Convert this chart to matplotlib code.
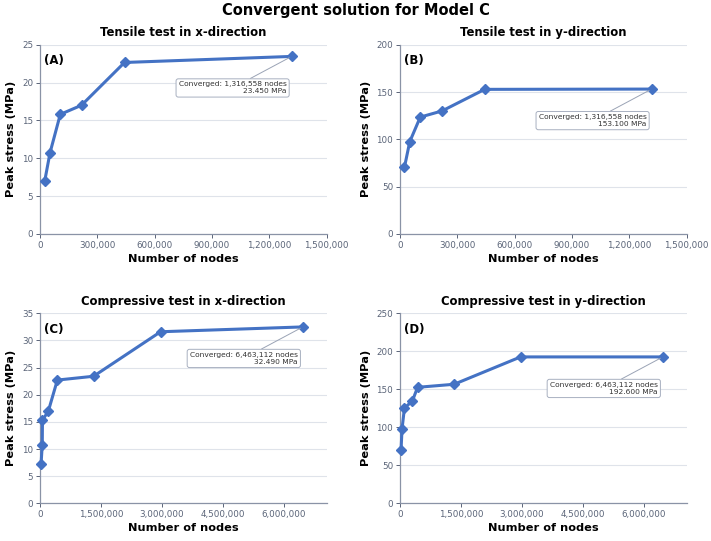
import matplotlib
matplotlib.use("Agg")
import matplotlib.pyplot as plt
from matplotlib.ticker import FuncFormatter

# ---- data ----
nodes_a = [25000, 52000, 106000, 217000, 442000, 1316558]
stress_a = [7.05, 10.7, 15.8, 17.0, 22.65, 23.45]

nodes_b = [23000, 51000, 106000, 220000, 443000, 1316558]
stress_b = [70.3, 97.5, 123.5, 130.0, 152.8, 153.1]

nodes_c = [25000, 55000, 60000, 205000, 426000, 1316558, 2965000, 6463112]
stress_c = [7.2, 10.8, 15.3, 17.0, 22.7, 23.4, 31.6, 32.49]

nodes_d = [25000, 50000, 108000, 307000, 432000, 1330000, 2965000, 6463112]
stress_d = [69.7, 97.9, 125.0, 135.0, 152.6, 156.6, 192.6, 192.6]

titles = ["Tensile test in x-direction", "Tensile test in y-direction",
          "Compressive test in x-direction", "Compressive test in y-direction"]
labels = ["(A)", "(B)", "(C)", "(D)"]
conv_text = ["Converged: 1,316,558 nodes\n23.450 MPa",
             "Converged: 1,316,558 nodes\n153.100 MPa",
             "Converged: 6,463,112 nodes\n32.490 MPa",
             "Converged: 6,463,112 nodes\n192.600 MPa"]
xticks_small = [0, 300000, 600000, 900000, 1200000, 1500000]
xticks_large = [0, 1500000, 3000000, 4500000, 6000000]
yticks = [[0, 5, 10, 15, 20, 25], [0, 50, 100, 150, 200],
          [0, 5, 10, 15, 20, 25, 30, 35], [0, 50, 100, 150, 200, 250]]

series = [(nodes_a, stress_a), (nodes_b, stress_b), (nodes_c, stress_c), (nodes_d, stress_d)]
xlims = [1500000, 1500000, 7050000, 7050000]
xticks_all = [xticks_small, xticks_small, xticks_large, xticks_large]

LINE = "#4472c4"
TICK = "#5a6478"
SPINE = "#8a93a6"
GRID = "#dfe3ea"

fig = plt.figure(figsize=(7.11, 5.41), dpi=100)
fig.suptitle("Convergent solution for Model C", fontsize=10.5, fontweight="bold", y=0.995)

positions = [
    [0.0563, 0.5675, 0.4032, 0.3499],
    [0.5626, 0.5675, 0.4032, 0.3499],
    [0.0563, 0.0697, 0.4032, 0.3512],
    [0.5626, 0.0697, 0.4032, 0.3512],
]

fmt = FuncFormatter(lambda v, p: f"{int(v):,}")

for i in range(4):
    ax = fig.add_axes(positions[i])
    x, y = series[i]
    ax.plot(x, y, color=LINE, lw=2.2, marker="D", markersize=5.3, zorder=3, clip_on=False)
    ax.set_xlim(0, xlims[i])
    ax.set_ylim(yticks[i][0], yticks[i][-1])
    ax.set_xticks(xticks_all[i])
    ax.set_yticks(yticks[i])
    ax.xaxis.set_major_formatter(fmt)
    ax.grid(axis="y", color=GRID, lw=0.8)
    ax.set_axisbelow(True)
    for s in ["top", "right"]:
        ax.spines[s].set_visible(False)
    for s in ["left", "bottom"]:
        ax.spines[s].set_color(SPINE)
        ax.spines[s].set_linewidth(0.9)
    ax.tick_params(colors=TICK, labelsize=6.3, length=3, width=0.7, pad=2)
    ax.set_title(titles[i], fontsize=8.4, fontweight="bold", pad=6)
    ax.set_xlabel("Number of nodes", fontsize=8.2, fontweight="bold", labelpad=3)
    ax.set_ylabel("Peak stress (MPa)", fontsize=8.2, fontweight="bold", labelpad=4)
    ax.text(0.015, 0.95, labels[i], transform=ax.transAxes, fontsize=8.5,
            fontweight="bold", va="top", ha="left")
    ax.annotate(conv_text[i], xy=(x[-1], y[-1]), xycoords="data",
                xytext=(-42.5, -22.7), textcoords="offset points",
                ha="center", va="center", multialignment="right",
                fontsize=5.4, color="#333333",
                bbox=dict(boxstyle="round,pad=0.35,rounding_size=0.3", fc="white",
                          ec="#a8b0c0", lw=0.7),
                arrowprops=dict(arrowstyle="-", color="#9aa3b5", lw=0.7,
                                shrinkA=0, shrinkB=2))

fig.savefig("out.png", dpi=100)
